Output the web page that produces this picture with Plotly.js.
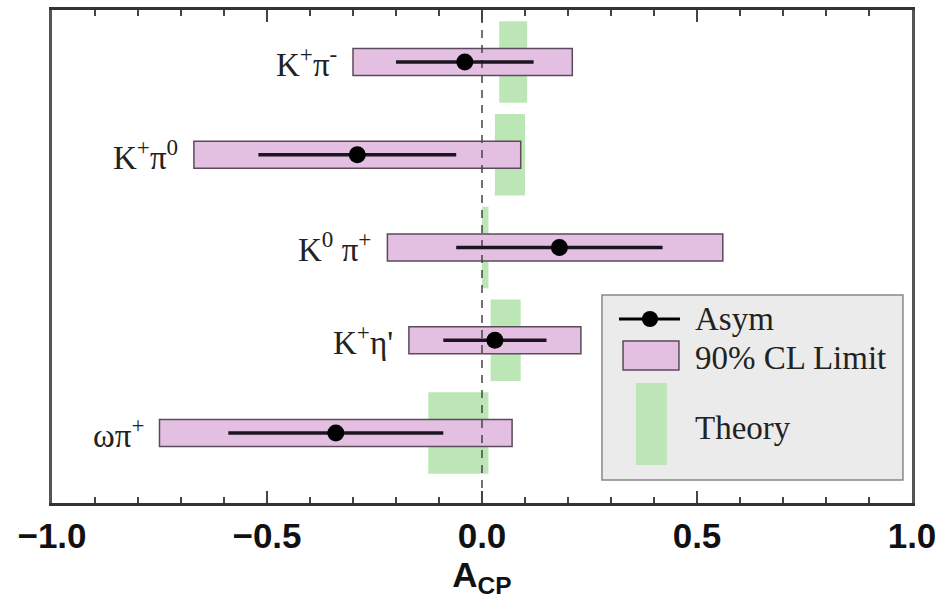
<!DOCTYPE html>
<html>
<head>
<meta charset="utf-8">
<script src="https://cdn.plot.ly/plotly-3.0.1.min.js"></script>
<style>html,body{margin:0;padding:0;background:#fff;}#chart{width:937px;height:611px;}</style>
</head>
<body>
<div id="chart"></div>
<script>
// ---- data ----
const channels = ["K<sup>+</sup>π<sup>-</sup>", "K<sup>+</sup>π<sup>0</sup>", "K<sup>0</sup> π<sup>+</sup>", "K<sup>+</sup>η'", "ωπ<sup>+</sup>"];
const rows = [5, 4, 3, 2, 1];
const asym = [-0.04, -0.29, 0.18, 0.03, -0.34];
const asymErr = [0.16, 0.23, 0.24, 0.12, 0.25];
const clLo = [-0.30, -0.67, -0.22, -0.17, -0.75];
const clHi = [0.21, 0.09, 0.56, 0.23, 0.07];
const thLo = [0.04, 0.03, 0.00, 0.02, -0.125];
const thHi = [0.105, 0.10, 0.015, 0.09, 0.015];
const xTicks = [-1.0, -0.5, 0.0, 0.5, 1.0];

const serif = "Liberation Serif, Times New Roman, serif";
const sans = "Liberation Sans, Arial, Helvetica, sans-serif";
const pink = "#e3c0e1", green = "#bde6b6";

const traces = [
  {type: "bar", orientation: "h", y: rows, base: thLo, x: thHi.map((h, i) => h - thLo[i]),
   width: 0.88, marker: {color: green, line: {width: 0}}, hoverinfo: "skip", showlegend: false},
  {type: "bar", orientation: "h", y: rows, base: clLo, x: clHi.map((h, i) => h - clLo[i]),
   width: 0.29, marker: {color: pink, line: {color: "#5b4a5b", width: 1.5}}, hoverinfo: "skip", showlegend: false},
  {type: "scatter", mode: "lines", x: [0, 0], y: [0.245, 5.56],
   line: {color: "#444", width: 1.5, dash: "8px,7px"}, hoverinfo: "skip", showlegend: false},
  {type: "scatter", mode: "markers", x: asym, y: rows,
   error_x: {type: "data", array: asymErr, color: "#1c1420", thickness: 3.5, width: 0},
   marker: {color: "#000", size: 17}, showlegend: false}
];

const annotations = channels.map((c, i) => ({
  x: clLo[i], y: rows[i], xref: "x", yref: "y", text: c, showarrow: false,
  xanchor: "right", yanchor: "middle", xshift: -14,
  font: {family: serif, size: 33, color: "#222"}
}));

// custom legend (paper coordinates)
const legText = [["Asym", 0.3732], ["90% CL Limit", 0.2941], ["Theory", 0.1521]];
legText.forEach(([t, y]) => annotations.push({
  x: 0.7453, y: y, xref: "paper", yref: "paper", text: t, showarrow: false,
  xanchor: "left", yanchor: "middle", font: {family: serif, size: 33, color: "#222"}
}));

const shapes = [
  {type: "rect", xref: "paper", yref: "paper", x0: 0.6395, x1: 0.9895, y0: 0.0467, y1: 0.4219,
   fillcolor: "#ebebeb", line: {color: "#888", width: 1.5}, layer: "above"},
  {type: "line", xref: "paper", yref: "paper", x0: 0.6593, x1: 0.7302, y0: 0.3732, y1: 0.3732,
   line: {color: "#000", width: 3}, layer: "above"},
  {type: "circle", xref: "paper", yref: "paper", x0: 0.6860, x1: 0.7047, y0: 0.357, y1: 0.3895,
   fillcolor: "#000", line: {color: "#000", width: 0}, layer: "above"},
  {type: "rect", xref: "paper", yref: "paper", x0: 0.664, x1: 0.729, y0: 0.2698, y1: 0.3286,
   fillcolor: pink, line: {color: "#5b4a5b", width: 1.5}, layer: "above"},
  {type: "rect", xref: "paper", yref: "paper", x0: 0.679, x1: 0.715, y0: 0.0771, y1: 0.2434,
   fillcolor: green, line: {width: 0}, layer: "above"}
];

const layout = {
  width: 937, height: 611,
  margin: {l: 52, r: 25, t: 10, b: 108},
  paper_bgcolor: "#fff", plot_bgcolor: "#fff",
  barmode: "overlay",
  showlegend: false,
  xaxis: {
    range: [-1, 1], tickvals: xTicks, ticktext: xTicks.map(v => v.toFixed(1).replace("-", "\u2212")),
    ticks: "inside", ticklen: 12, tickwidth: 1.5, tickcolor: "#444",
    minor: {dtick: 0.1, tick0: 0, ticks: "inside", ticklen: 6, tickwidth: 1.5, tickcolor: "#444"},
    showline: true, linecolor: "#333", linewidth: 3, mirror: "allticks",
    showgrid: false, zeroline: false,
    tickfont: {family: sans, size: 35, color: "#111", weight: "bold"},
    title: {text: "A<sub>CP</sub>", font: {family: sans, size: 35, color: "#111", weight: "bold"}, standoff: 8}
  },
  yaxis: {
    range: [0.245, 5.56], showticklabels: false, ticks: "", showgrid: false, zeroline: false,
    showline: true, linecolor: "#555", linewidth: 3, mirror: true
  },
  annotations: annotations,
  shapes: shapes
};

Plotly.newPlot("chart", traces, layout, {displayModeBar: false, staticPlot: true});
</script>
</body>
</html>
